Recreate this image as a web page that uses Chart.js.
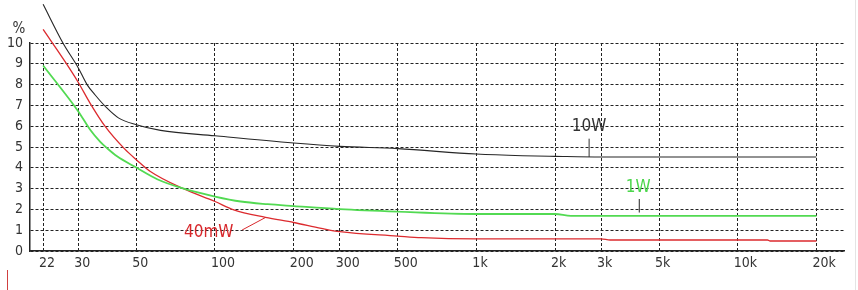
<!DOCTYPE html>
<html>
<head>
<meta charset="utf-8">
<script src="https://cdn.jsdelivr.net/npm/chart.js@4/dist/chart.umd.min.js"></script>
<style>
    html, body { margin: 0; padding: 0; background: #fff; }
    #wrap { width: 858px; height: 290px; position: relative; }
</style>
</head>
<body>
<div id="wrap"><canvas id="chart"></canvas></div>
<script>
// Distortion (%) vs frequency (Hz)
const tickValues = [22, 30, 50, 100, 200, 300, 500, 1000, 2000, 3000, 5000, 10000, 20000];
const tickLabels = ['22', '30', '50', '100', '200', '300', '500', '1k', '2k', '3k', '5k', '10k', '20k'];

const freq10W = [22, 26.2, 30, 32.4, 34.8, 38.4, 42.7, 50, 61.9, 100, 200, 300, 500, 1000, 1500, 2000, 3000, 20000];
const thd10W = [11.86, 10.0, 8.8, 8.0, 7.5, 6.9, 6.4, 6.07, 5.8, 5.54, 5.19, 5.03, 4.92, 4.66, 4.58, 4.55, 4.52, 4.52];

const freq1W = [22, 30, 33.3, 36.4, 38.6, 42.2, 50, 60.1, 74.9, 100, 125.5, 159, 200, 300, 500, 1000, 2000, 2300, 20000];
const thd1W = [8.92, 6.71, 5.83, 5.25, 4.95, 4.55, 4.01, 3.45, 3.02, 2.62, 2.38, 2.25, 2.16, 2.01, 1.89, 1.78, 1.78, 1.69, 1.69];

const freq40mW = [22, 26.7, 30, 33.3, 38, 45, 50, 56.6, 74.9, 100, 118, 156, 200, 255, 300, 500, 616, 1000, 3000, 3250, 13000, 13300, 20000];
const thd40mW = [10.65, 9.1, 8.1, 7.1, 5.99, 4.92, 4.39, 3.82, 3.02, 2.38, 1.98, 1.62, 1.37, 1.09, 0.93, 0.72, 0.64, 0.58, 0.58, 0.53, 0.53, 0.48, 0.48];

const FONT = "'DejaVu Sans Condensed', 'Liberation Sans Narrow', 'Liberation Sans', sans-serif";

function toPoints(xs, ys) {
    return xs.map((x, i) => ({ x: x, y: ys[i] }));
}

// curve labels with leader lines, placed in data units
const annotations = [
    { text: '10W', color: '#333', x: 2700, y: 5.98, lineColor: '#333', line: [[2700, 5.4], [2700, 4.52]] },
    { text: '1W', color: '#4cd64c', x: 4160, y: 3.04, lineColor: '#222', line: [[4200, 2.5], [4200, 1.85]] },
    { text: '40mW', color: '#d8282c', x: 94.6, y: 0.89, lineColor: '#d8282c', line: [[127, 1.01], [156.5, 1.62]] }
];

const extrasPlugin = {
    id: 'extras',
    afterDatasetsDraw(chart) {
        const ctx = chart.ctx;
        const xs = chart.scales.x;
        const ys = chart.scales.y;
        const area = chart.chartArea;
        ctx.save();
        ctx.font = '15px ' + FONT;
        ctx.fillStyle = '#333';
        ctx.textAlign = 'center';
        ctx.textBaseline = 'middle';
        ctx.fillText('%', area.left - 11, area.top - 14);

        annotations.forEach(a => {
            ctx.strokeStyle = a.lineColor;
            ctx.lineWidth = 1;
            ctx.beginPath();
            ctx.moveTo(xs.getPixelForValue(a.line[0][0]), ys.getPixelForValue(a.line[0][1]));
            ctx.lineTo(xs.getPixelForValue(a.line[1][0]), ys.getPixelForValue(a.line[1][1]));
            ctx.stroke();
            ctx.font = '17px ' + FONT;
            ctx.fillStyle = a.color;
            ctx.fillText(a.text, xs.getPixelForValue(a.x), ys.getPixelForValue(a.y));
        });

        // stray marks on the scanned sheet
        ctx.strokeStyle = '#d04040';
        ctx.beginPath();
        ctx.moveTo(7.5, 270);
        ctx.lineTo(7.5, 290);
        ctx.stroke();
        ctx.strokeStyle = '#e4e4e4';
        ctx.beginPath();
        ctx.moveTo(855.5, 0);
        ctx.lineTo(855.5, 290);
        ctx.stroke();
        ctx.restore();
    }
};

new Chart(document.getElementById('chart'), {
    type: 'line',
    data: {
        datasets: [
            {
                label: '10W',
                data: toPoints(freq10W, thd10W),
                borderColor: '#262626',
                borderWidth: 1.1,
                pointRadius: 0,
                cubicInterpolationMode: 'monotone',
                clip: false
            },
            {
                label: '1W',
                data: toPoints(freq1W, thd1W),
                borderColor: '#52da52',
                borderWidth: 1.8,
                pointRadius: 0,
                cubicInterpolationMode: 'monotone',
                clip: false
            },
            {
                label: '40mW',
                data: toPoints(freq40mW, thd40mW),
                borderColor: '#dc2a2e',
                borderWidth: 1.3,
                pointRadius: 0,
                cubicInterpolationMode: 'monotone',
                clip: false
            }
        ]
    },
    options: {
        responsive: true,
        maintainAspectRatio: false,
        animation: false,
        layout: { padding: { top: 43, right: 14, left: 0, bottom: 0 } },
        plugins: {
            legend: { display: false },
            tooltip: { enabled: false }
        },
        scales: {
            x: {
                type: 'logarithmic',
                min: 19.6,
                max: 25500,
                afterBuildTicks: (scale) => {
                    scale.ticks = tickValues.map(v => ({ value: v }));
                },
                afterFit: (scale) => {
                    scale.height = 39;
                    scale.paddingLeft = 0;
                    scale.paddingRight = 0;
                },
                grid: { color: '#222', lineWidth: 1, drawTicks: false },
                border: { display: true, color: '#222', width: 1.5, dash: [3, 2] },
                ticks: {
                    autoSkip: false,
                    maxRotation: 0,
                    align: 'start',
                    labelOffset: -4,
                    padding: 4,
                    color: '#333',
                    font: { family: FONT, size: 14 },
                    callback: (value) => {
                        const i = tickValues.indexOf(value);
                        return i >= 0 ? tickLabels[i] : '';
                    }
                }
            },
            y: {
                min: 0,
                max: 10,
                afterFit: (scale) => {
                    scale.width = 30;
                    scale.paddingTop = 0;
                    scale.paddingBottom = 0;
                },
                grid: { color: '#222', lineWidth: 1, drawTicks: false },
                border: { display: true, color: '#222', width: 1.5, dash: [3, 2] },
                ticks: {
                    stepSize: 1,
                    autoSkip: false,
                    padding: 7,
                    color: '#333',
                    font: { family: FONT, size: 14 }
                }
            }
        }
    },
    plugins: [extrasPlugin]
});
</script>
</body>
</html>
